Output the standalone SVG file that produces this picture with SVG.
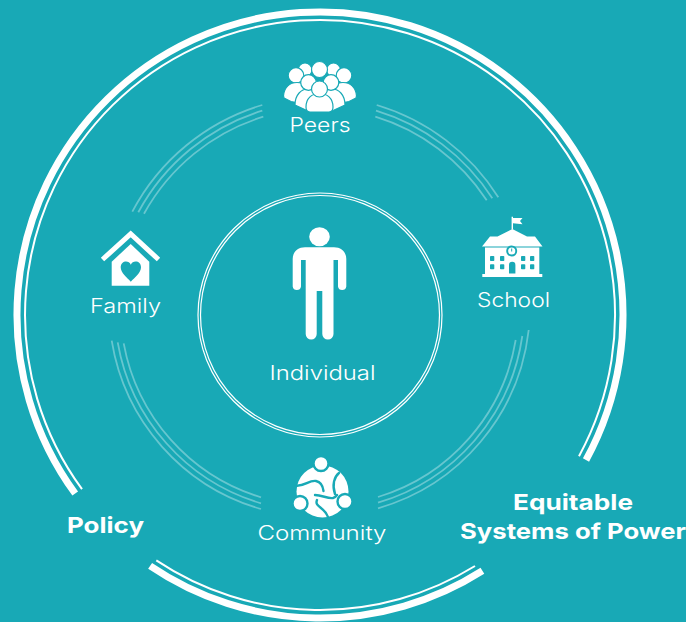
<svg xmlns="http://www.w3.org/2000/svg" width="686" height="622" viewBox="0 0 686 622">
<style>
.thick{fill:none;stroke:#fff;stroke-width:7}
.thin{fill:none;stroke:#fff;stroke-width:2}
.tri{fill:none;stroke:#66c6cf;stroke-width:1.8}
.ring{fill:none;stroke:#fff;stroke-width:1.2}
.w{fill:#fff}
.t{fill:#18a9b6}
.p{fill:#fff;stroke:#18a9b6;stroke-width:1.2}
.gap{fill:none;stroke:#18a9b6;stroke-width:2.4;stroke-linecap:round}
text{fill:#fff;font-family:"Inter","Open Sans","Liberation Sans",sans-serif;text-anchor:middle}
.l{font-size:20px;font-weight:300}
.b{font-size:22px;font-weight:700}
</style>
<rect width="686" height="622" fill="#18a9b6"/>
<g id="connectors">
<path class="thick" d="M75.2 493.5A303 303 0 1 1 586 460"/>
<path class="thin" d="M82 489.2A295 295 0 1 1 579 456.2"/>
<path class="thick" d="M150.1 565.9A303 303 0 0 0 482.4 570.8"/>
<path class="thin" d="M156.3 560.4A295 295 0 0 0 475 566"/>
<path class="tri" d="M376.7 105A217 217 0 0 1 498.3 197.3"/>
<path class="tri" d="M376 110.7A211 211 0 0 1 492.3 198.3"/>
<path class="tri" d="M375.3 116.7A205 205 0 0 1 486.7 200.3"/>
<path class="tri" d="M262.3 105A217 217 0 0 0 132.3 211.7"/>
<path class="tri" d="M262.3 110.7A211 211 0 0 0 138.3 212.3"/>
<path class="tri" d="M263.3 116.7A205 205 0 0 0 144 213.7"/>
<path class="tri" d="M111.7 340.7A210 210 0 0 0 261 509"/>
<path class="tri" d="M117.7 342.3A204 204 0 0 0 261 503.3"/>
<path class="tri" d="M123.7 343.3A198 198 0 0 0 261 497.3"/>
<path class="tri" d="M528.7 330A210 210 0 0 1 378 508.3"/>
<path class="tri" d="M522.3 336A204 204 0 0 1 378 502.7"/>
<path class="tri" d="M515.7 340A198 198 0 0 1 378 497"/>
</g>
<g id="individual">
<circle class="ring" cx="320" cy="315" r="122"/>
<circle class="ring" cx="320" cy="315" r="119.5"/>
<ellipse class="w" cx="319.5" cy="236.7" rx="10.3" ry="9.5"/>
<path class="w" d="M305 247.3H334C341 247.3 346.3 252 346.3 259V286.5A4.2 4.2 0 0 1 338 286.5V260H333.5V334A5.5 5.5 0 0 1 322.3 334V291H316.7V334A5.5 5.5 0 0 1 305.7 334V260H301V286.5A4.2 4.2 0 0 1 292.7 286.5V259C292.7 252 298 247.3 305 247.3Z"/>
<text class="l" x="322.5" y="380" textLength="106" lengthAdjust="spacingAndGlyphs">Individual</text>
</g>
<g id="peers">
<circle class="p" cx="305" cy="70" r="7"/><circle class="p" cx="333.5" cy="70" r="7"/><circle class="p" cx="319.5" cy="69.5" r="8"/>
<circle class="p" cx="296" cy="75.5" r="7.8"/><circle class="p" cx="344" cy="75.5" r="7.8"/>
<path class="p" d="M283.5 96C284 87 290 82.5 297 82.5C304 82.5 309 87 310 94V105L291 101.5L284 98Z"/>
<path class="p" d="M356.5 96C356 87 350 82.5 343 82.5C336 82.5 331 87 330 94V105L349 101.5L356 98Z"/>
<path class="p" d="M295 105C295 95 301 89 308 89H332C339 89 345 95 345 105L332 111H308Z"/>
<circle class="p" cx="308.5" cy="82.5" r="7.8"/><circle class="p" cx="331" cy="82.5" r="7.8"/>
<path class="p" d="M306 107C306 98 312 93.5 319.5 93.5C327 93.5 333 98 333 107C333 110 331.5 112 329 112H310C307.500 112 306 110 306 107Z"/>
<circle class="p" cx="319.500" cy="89" r="8"/>
<text class="l" x="320" y="132" textLength="61" lengthAdjust="spacingAndGlyphs">Peers</text>
</g>
<g id="school">
<path class="w" d="M511.6 229V216.7H513V218H522.500L520 221L522.500 224.200L513 223.300V229Z"/>
<path class="w" d="M512.300 229L527 236.500H535L542.500 246.500H482L490 236.500H497.500Z"/>
<rect class="w" x="485" y="247.500" width="54.300" height="27"/>
<rect class="w" x="482.300" y="274" width="60" height="3"/>
<circle class="t" cx="511.700" cy="251" r="5.500"/>
<circle class="w" cx="511.700" cy="251" r="3.600"/>
<path d="M511.700 248.500V251.500" stroke="#18a9b6" stroke-width="1"/>
<g class="t">
<rect x="490" y="256" width="4.300" height="5" rx="0.800"/><rect x="500" y="256" width="4.300" height="5" rx="0.800"/><rect x="521" y="256" width="4.300" height="5" rx="0.800"/><rect x="530" y="256" width="4.300" height="5" rx="0.800"/>
<rect x="490" y="264.300" width="4.300" height="5" rx="0.800"/><rect x="500" y="264.300" width="4.300" height="5" rx="0.800"/><rect x="521" y="264.300" width="4.300" height="5" rx="0.800"/><rect x="530" y="264.300" width="4.300" height="5" rx="0.800"/>
<path d="M509 273.500V265A3.200 3.200 0 0 1 515.400 265V273.500Z"/>
</g>
<text class="l" x="513.500" y="307" textLength="73" lengthAdjust="spacingAndGlyphs">School</text>
</g>
<g id="family">
<path d="M102.500 259.500L130.700 234L158.500 259.500" fill="none" stroke="#fff" stroke-width="5"/>
<path class="w" d="M111.700 261.700L130.700 244L149.300 261.700V285.700H111.700Z"/>
<path class="t" d="M130.800 281.700C127 277.500 120.700 273 120.700 267.300C120.700 263.500 123.500 261.500 126 261.500C128 261.500 130 262.700 130.800 264.700C131.700 262.700 133.500 261.500 135.600 261.500C138.500 261.500 141 263.500 141 267.300C141 273 134.700 277.500 130.800 281.700Z"/>
<text class="l" x="125.500" y="313" textLength="71" lengthAdjust="spacingAndGlyphs">Family</text>
</g>
<g id="community">
<circle class="w" cx="322.500" cy="491.500" r="26"/>
<circle class="w" cx="321" cy="463.500" r="7.500" stroke="#18a9b6" stroke-width="2.400"/>
<circle class="w" cx="300" cy="503.500" r="7.500" stroke="#18a9b6" stroke-width="2.400"/>
<circle class="w" cx="345" cy="501.500" r="7.500" stroke="#18a9b6" stroke-width="2.400"/>
<path class="gap" d="M296.700 485.700C305 486 309 480 316 481C321 482 323 487 323.500 491"/>
<path class="gap" d="M339 473C334 477 332 485 335 494"/>
<path class="gap" d="M315 495C322 495 328 499 333 498C335 497.500 336 496.500 337 495"/>
<path class="gap" d="M317 500C314 507 325 507 328 517"/>
<text class="l" x="322" y="540" textLength="129" lengthAdjust="spacingAndGlyphs">Community</text>
</g>
<g id="policy"><text class="b" x="105.500" y="533" textLength="77" lengthAdjust="spacingAndGlyphs">Policy</text></g>
<g id="equitable-systems-of-power">
<text class="b" x="573" y="510" textLength="120" lengthAdjust="spacingAndGlyphs">Equitable</text>
<text class="b" x="573" y="539" textLength="226" lengthAdjust="spacingAndGlyphs">Systems of Power</text>
</g>
</svg>
